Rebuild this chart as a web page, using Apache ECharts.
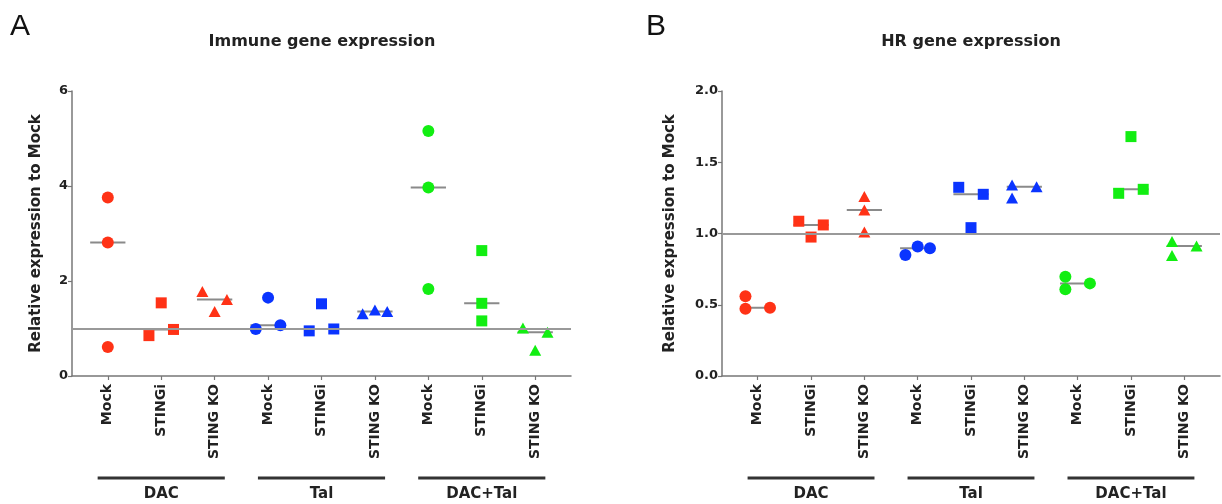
<!DOCTYPE html>
<html>
<head>
<meta charset="utf-8">
<script src="https://cdn.jsdelivr.net/npm/echarts@6/dist/echarts.min.js"></script>
<style>
html,body{margin:0;padding:0;background:#fff;}
#chart{width:1222px;height:504px;}
</style>
</head>
<body>
<div id="chart"></div>
<script>
// ---------- data ----------
const xCategories = ['Mock', 'STINGi', 'STING KO', 'Mock', 'STINGi', 'STING KO', 'Mock', 'STINGi', 'STING KO'];
const groupNames = ['DAC', 'Tal', 'DAC+Tal'];
const groupColors = ['#ff3216', '#0a34ff', '#12ee12'];
const columnSymbols = ['circle', 'rect', 'triangle'];

// Panel A: Immune gene expression (3 replicates per column)
const immuneValues = [
  [3.76, 2.81, 0.61],
  [0.85, 1.54, 0.98],
  [1.78, 1.36, 1.61],
  [0.99, 1.65, 1.07],
  [0.95, 1.52, 0.99],
  [1.31, 1.39, 1.36],
  [5.16, 3.97, 1.83],
  [2.64, 1.53, 1.16],
  [1.01, 0.54, 0.92]
];
// horizontal jitter slot of each replicate (-1 left, 0 centre, 1 right)
const immuneSlots = [
  [0, 0, 0], [-1, 0, 1], [-1, 0, 1],
  [-1, 0, 1], [-1, 0, 1], [-1, 0, 1],
  [0, 0, 0], [0, 0, 0], [-1, 0, 1]
];
const immuneTicks = [0, 2, 4, 6];

// Panel B: HR gene expression
const hrValues = [
  [0.56, 0.472, 0.479],
  [1.086, 0.975, 1.06],
  [1.26, 1.165, 1.01],
  [0.849, 0.908, 0.896],
  [1.324, 1.041, 1.275],
  [1.34, 1.25, 1.328],
  [0.697, 0.608, 0.65],
  [1.68, 1.282, 1.31],
  [0.943, 0.845, 0.912]
];
const hrSlots = [
  [-1, -1, 1], [-1, 0, 1], [0, 0, 0],
  [-1, 0, 1], [-1, 0, 1], [-1, -1, 1],
  [-1, -1, 1], [0, -1, 1], [-1, -1, 1]
];
const hrTicks = [0, 0.5, 1.0, 1.5, 2.0];

const referenceLevel = 1;

// ---------- helpers ----------
const SLOT = 0.23;     // jitter step in category units
const HALF = 0.33;     // half width of median bar
const X_MIN = -0.67, X_MAX = 8.67;
const catIdx = xCategories.map((_, i) => i);
const FONT = '"DejaVu Sans", Verdana, sans-serif';

function median(arr) {
  const s = arr.slice().sort((a, b) => a - b);
  return s[Math.floor(s.length / 2)];
}

function xAxisFor(grid) {
  return {
    type: 'value', gridIndex: grid, min: X_MIN, max: X_MAX,
    splitLine: { show: false },
    axisLine: { show: true, onZero: false, lineStyle: { color: '#777', width: 1.5 } },
    axisTick: { show: true, customValues: catIdx, length: 4, lineStyle: { color: '#777', width: 1.2 } },
    axisLabel: {
      customValues: catIdx, rotate: 90, margin: 8,
      formatter: v => xCategories[Math.round(v)],
      fontFamily: FONT, fontWeight: 'bold', fontSize: 14, color: '#222'
    }
  };
}

function yAxisFor(grid, ticks, nameGap, decimals) {
  return {
    type: 'value', gridIndex: grid,
    min: ticks[0], max: ticks[ticks.length - 1], interval: ticks[1] - ticks[0],
    splitLine: { show: false },
    axisLine: { show: true, onZero: false, lineStyle: { color: '#777', width: 1.5 } },
    axisTick: { show: true, length: 4, lineStyle: { color: '#777', width: 1.2 } },
    axisLabel: {
      margin: 4, formatter: v => v.toFixed(decimals),
      fontFamily: FONT, fontWeight: 'bold', fontSize: 13, color: '#222'
    },
    name: 'Relative expression to Mock', nameLocation: 'middle', nameGap: nameGap,
    nameTextStyle: { fontFamily: FONT, fontWeight: 'bold', fontSize: 15, color: '#222' }
  };
}

function panelSeries(values, slots, axisIndex) {
  const out = [];
  // median bars + reference line
  out.push({
    type: 'custom', xAxisIndex: axisIndex, yAxisIndex: axisIndex, z: 1, silent: true,
    data: values.map((v, i) => [i, median(v)]),
    renderItem: (params, api) => {
      const i = api.value(0), m = api.value(1);
      const p1 = api.coord([i - HALF, m]);
      const p2 = api.coord([i + HALF, m]);
      return { type: 'line', shape: { x1: p1[0], y1: p1[1], x2: p2[0], y2: p2[1] },
               style: { stroke: '#8a8a8a', lineWidth: 2 } };
    },
    markLine: {
      silent: true, symbol: 'none', label: { show: false },
      lineStyle: { color: '#999', width: 2, type: 'solid' },
      data: [{ yAxis: referenceLevel }]
    }
  });
  values.forEach((vals, i) => {
    const sym = columnSymbols[i % 3];
    out.push({
      type: 'scatter', xAxisIndex: axisIndex, yAxisIndex: axisIndex, z: 3,
      symbol: sym,
      symbolSize: sym === 'rect' ? 11 : (sym === 'triangle' ? [12, 11] : 12),
      itemStyle: { color: groupColors[Math.floor(i / 3)], opacity: 1 },
      data: vals.map((v, k) => [i + slots[i][k] * SLOT, v])
    });
  });
  return out;
}

const chart = echarts.init(document.getElementById('chart'), null, { renderer: 'canvas' });

chart.setOption({
  animation: false,
  backgroundColor: '#fff',
  grid: [
    { left: 72, top: 91, width: 499, height: 285 },
    { left: 722, top: 91, width: 498, height: 285 }
  ],
  xAxis: [xAxisFor(0), xAxisFor(1)],
  yAxis: [yAxisFor(0, immuneTicks, 28, 0), yAxisFor(1, hrTicks, 44, 1)],
  series: panelSeries(immuneValues, immuneSlots, 0).concat(panelSeries(hrValues, hrSlots, 1))
});

// panel letters, titles, group bars and labels (bars placed through the axis scale)
const LFONT = '"Liberation Sans", Arial, sans-serif';
const graphics = [
  { type: 'text', x: 10, y: 27, style: { text: 'A', font: 'normal 30px ' + LFONT, fill: '#111', textVerticalAlign: 'middle' } },
  { type: 'text', x: 646, y: 27, style: { text: 'B', font: 'normal 30px ' + LFONT, fill: '#111', textVerticalAlign: 'middle' } },
  { type: 'text', x: 322, y: 42, style: { text: 'Immune gene expression', font: 'bold 16px ' + FONT, fill: '#222', textAlign: 'center', textVerticalAlign: 'middle' } },
  { type: 'text', x: 971, y: 42, style: { text: 'HR gene expression', font: 'bold 16px ' + FONT, fill: '#222', textAlign: 'center', textVerticalAlign: 'middle' } }
];
[0, 1].forEach(g => {
  groupNames.forEach((name, k) => {
    const a = chart.convertToPixel({ xAxisIndex: g }, k * 3 - 0.19);
    const b = chart.convertToPixel({ xAxisIndex: g }, k * 3 + 2.19);
    const c = chart.convertToPixel({ xAxisIndex: g }, k * 3 + 1);
    graphics.push({ type: 'line', shape: { x1: a, y1: 478, x2: b, y2: 478 }, style: { stroke: '#333', lineWidth: 3 } });
    graphics.push({ type: 'text', x: c, y: 494, style: { text: name, font: 'bold 15px ' + FONT, fill: '#222', textAlign: 'center', textVerticalAlign: 'middle' } });
  });
});
chart.setOption({ graphic: graphics });
</script>
</body>
</html>
